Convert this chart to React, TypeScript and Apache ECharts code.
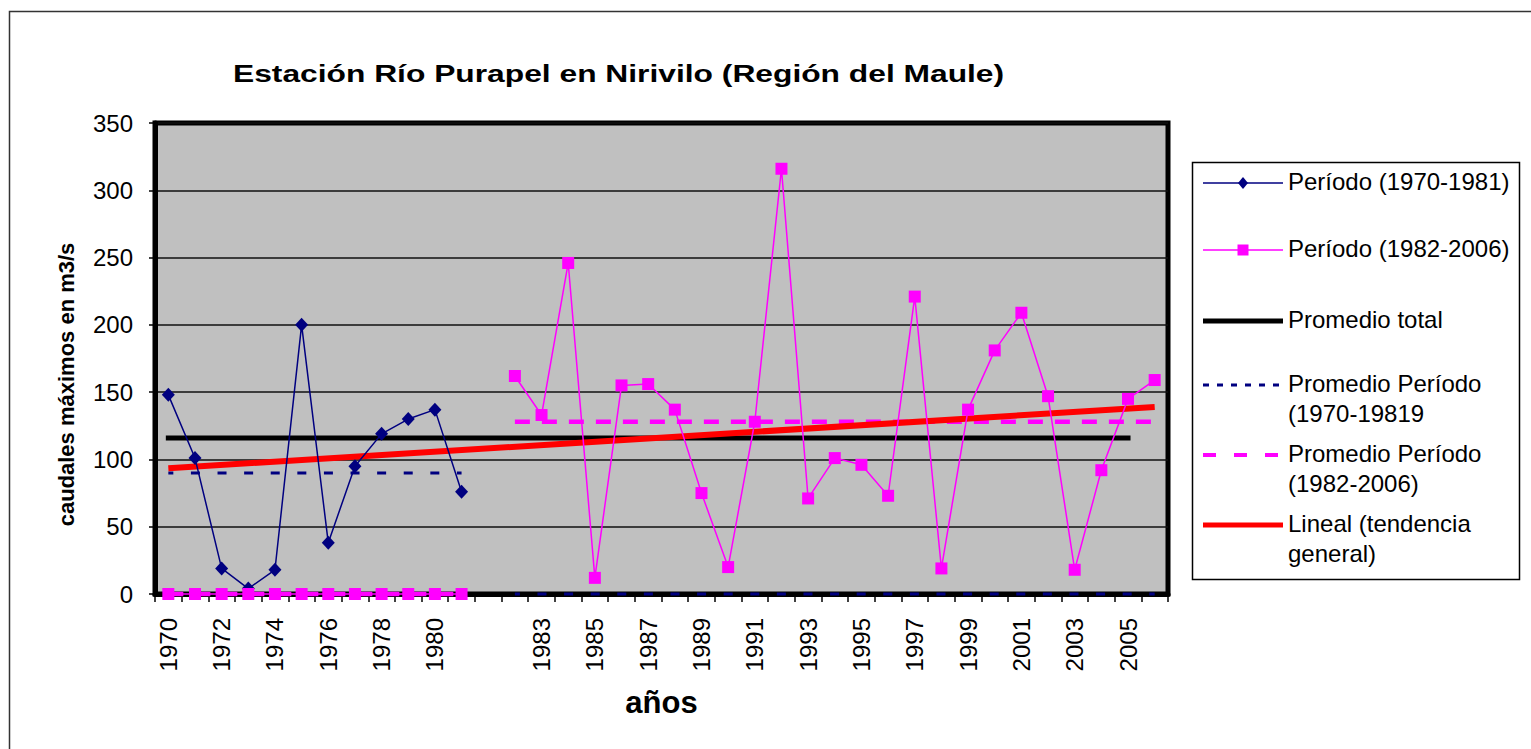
import React, { useEffect, useRef } from 'react';
import * as echarts from 'echarts';

// ---- data ----
const categories = [
  '1970', '1971', '1972', '1973', '1974', '1975', '1976', '1977', '1978', '1979', '1980', '1981',
  '',
  '1982', '1983', '1984', '1985', '1986', '1987', '1988', '1989', '1990', '1991', '1992', '1993',
  '1994', '1995', '1996', '1997', '1998', '1999', '2000', '2001', '2002', '2003', '2004', '2005', '2006',
];
const period1 = [148, 101, 19, 4, 18, 200, 38, 95, 119, 130, 137, 76];
const period2 = [162, 133, 246, 12, 155, 156, 137, 75, 20, 128, 316, 71, 101, 96, 73, 221, 19, 137, 181, 209, 147, 18, 92, 145, 159];
const avgTotal = 116;
const avgPeriod1 = 90;
const avgPeriod2 = 128;
const trendStart = 93.4;
const trendEnd = 139;
const yMax = 350;
const yInterval = 50;

const seriesNames = [
  'Período (1970-1981)',
  'Período (1982-2006)',
  'Promedio total',
  'Promedio Período\n(1970-19819',
  'Promedio Período\n(1982-2006)',
  'Lineal (tendencia\ngeneral)',
];
const titleText = 'Estación Río Purapel en Nirivilo (Región del Maule)';
const yAxisTitle = 'caudales máximos en m3/s';
const xAxisTitle = 'años';

// ---- styles ----
const FONT = 'Liberation Sans, Arial, sans-serif';
const NAVY = '#000080';
const MAGENTA = '#ff00ff';
const RED = '#ff0000';
const BLACK = '#000000';

export default function App() {
  const ref = useRef<HTMLDivElement>(null);

  useEffect(() => {
    document.body.style.margin = '0';
    if (!ref.current) return;
    const chart = echarts.init(ref.current, null, { renderer: 'svg' });

    const gap = [null];
    const blueData = [...period1, ...gap, ...period2.map(() => null)];
    const pinkData = [...period1.map(() => 0), ...gap, ...period2];
    const avg1Data = [...period1.map(() => avgPeriod1), ...gap, ...period2.map(() => 0)];
    const avg2Data = [...period1.map(() => 0), ...gap, ...period2.map(() => avgPeriod2)];
    const totalData = categories.map((_, i) => (i < categories.length - 1 ? avgTotal : null));
    const trendData = [[0, trendStart], [categories.length - 1, trendEnd]];

    // legend (drawn as graphic to mimic Excel layout)
    const legendRowY = [183, 250, 321, 385, 455, 525];
    const legendStyles = [
      { stroke: NAVY, lineWidth: 1.5, lineDash: null, marker: 'diamond' },
      { stroke: MAGENTA, lineWidth: 1.5, lineDash: null, marker: 'square' },
      { stroke: BLACK, lineWidth: 5, lineDash: null, marker: null },
      { stroke: NAVY, lineWidth: 3, lineDash: [6, 8], marker: null },
      { stroke: MAGENTA, lineWidth: 4, lineDash: [13, 18], marker: null },
      { stroke: RED, lineWidth: 5, lineDash: null, marker: null },
    ];
    const lx1 = 1203;
    const lx2 = 1283;
    const lmid = (lx1 + lx2) / 2;
    const legendGraphics: any[] = [
      {
        type: 'rect',
        shape: { x: 1192.5, y: 162.5, width: 327, height: 417 },
        style: { fill: '#ffffff', stroke: BLACK, lineWidth: 1.5 },
        z: 10,
      },
    ];
    seriesNames.forEach((name, i) => {
      const y = legendRowY[i];
      const st = legendStyles[i];
      legendGraphics.push({
        type: 'line',
        shape: { x1: lx1, y1: y, x2: lx2, y2: y },
        style: { stroke: st.stroke, lineWidth: st.lineWidth, lineDash: st.lineDash || undefined },
        z: 11,
      });
      if (st.marker === 'diamond') {
        legendGraphics.push({
          type: 'polygon',
          shape: { points: [[lmid, y - 6], [lmid + 5, y], [lmid, y + 6], [lmid - 5, y]] },
          style: { fill: NAVY },
          z: 12,
        });
      } else if (st.marker === 'square') {
        legendGraphics.push({
          type: 'rect',
          shape: { x: lmid - 5.5, y: y - 5.5, width: 11, height: 11 },
          style: { fill: MAGENTA },
          z: 12,
        });
      }
      const multi = name.indexOf('\n') >= 0;
      legendGraphics.push({
        type: 'text',
        x: 1288,
        y: multi ? y - 16.5 : y - 1.5,
        style: {
          text: name,
          fontFamily: FONT,
          fontSize: 24,
          lineHeight: 30,
          fill: BLACK,
          align: 'left',
          verticalAlign: multi ? 'top' : 'middle',
        },
        z: 12,
      });
    });

    const option: any = {
      animation: false,
      backgroundColor: '#ffffff',
      grid: {
        left: 155,
        top: 123,
        width: 1013,
        height: 471,
        show: true,
        backgroundColor: '#c0c0c0',
        borderColor: BLACK,
        borderWidth: 5,
        containLabel: false,
      },
      xAxis: {
        type: 'category',
        data: categories,
        boundaryGap: true,
        name: xAxisTitle,
        nameLocation: 'middle',
        nameGap: 93,
        nameTextStyle: { fontFamily: FONT, fontSize: 31, fontWeight: 'bold', color: BLACK },
        axisLine: { show: true, onZero: false, lineStyle: { color: BLACK, width: 5 } },
        axisTick: { show: true, interval: 0, length: 8, lineStyle: { color: BLACK, width: 1.5 } },
        axisLabel: {
          interval: 1,
          rotate: 90,
          margin: 24,
          fontFamily: FONT,
          fontSize: 24,
          color: BLACK,
        },
        splitLine: { show: false },
      },
      yAxis: {
        type: 'value',
        min: 0,
        max: yMax,
        interval: yInterval,
        name: yAxisTitle,
        nameLocation: 'middle',
        nameGap: 78,
        nameRotate: 90,
        nameTextStyle: {
          fontFamily: FONT,
          fontSize: 22,
          fontWeight: 'bold',
          color: BLACK,
          padding: [0, 52, 0, 0],
        },
        axisLine: { show: true, lineStyle: { color: BLACK, width: 5 } },
        axisTick: { show: true, length: 6, lineStyle: { color: BLACK, width: 1.5 } },
        axisLabel: { margin: 22, fontFamily: FONT, fontSize: 24, color: BLACK },
        splitLine: { show: true, lineStyle: { color: '#111111', width: 1.5 } },
      },
      series: [
        {
          name: seriesNames[2],
          type: 'line',
          data: totalData,
          symbol: 'none',
          clip: false,
          lineStyle: { color: BLACK, width: 5, cap: 'square' },
          itemStyle: { color: BLACK },
          z: 3,
        },
        {
          name: seriesNames[3],
          type: 'line',
          data: avg1Data,
          symbol: 'none',
          clip: false,
          lineStyle: { color: NAVY, width: 3, type: [9, 17.6], dashOffset: 4 },
          itemStyle: { color: NAVY },
          z: 3,
        },
        {
          name: seriesNames[4],
          type: 'line',
          data: avg2Data,
          symbol: 'none',
          clip: false,
          lineStyle: { color: MAGENTA, width: 4.5, type: [15, 12] },
          itemStyle: { color: MAGENTA },
          z: 3,
        },
        {
          name: seriesNames[5],
          type: 'line',
          data: trendData,
          symbol: 'none',
          clip: false,
          lineStyle: { color: RED, width: 6 },
          itemStyle: { color: RED },
          z: 4,
        },
        {
          name: seriesNames[0],
          type: 'line',
          data: blueData,
          symbol: 'diamond',
          symbolSize: [13, 14],
          clip: false,
          lineStyle: { color: NAVY, width: 1.5 },
          itemStyle: { color: NAVY },
          z: 5,
        },
        {
          name: seriesNames[1],
          type: 'line',
          data: pinkData,
          symbol: 'rect',
          symbolSize: 12,
          clip: false,
          lineStyle: { color: MAGENTA, width: 1.5 },
          itemStyle: { color: MAGENTA },
          z: 5,
        },
      ],
      graphic: [
        {
          type: 'rect',
          shape: { x: 9.5, y: 11.5, width: 1600, height: 800 },
          style: { fill: 'none', stroke: '#333333', lineWidth: 1.5 },
          z: 1,
          silent: true,
        },
        {
          type: 'text',
          x: 233,
          y: 73.5,
          scaleX: 1.324,
          style: {
            text: titleText,
            fontFamily: FONT,
            fontSize: 24,
            fontWeight: 'bold',
            fill: BLACK,
            align: 'left',
            verticalAlign: 'middle',
          },
          z: 10,
        },
        ...legendGraphics,
      ],
    };

    chart.setOption(option);
    return () => {
      chart.dispose();
    };
  }, []);

  return <div ref={ref} style={{ width: 1531, height: 749 }} />;
}
